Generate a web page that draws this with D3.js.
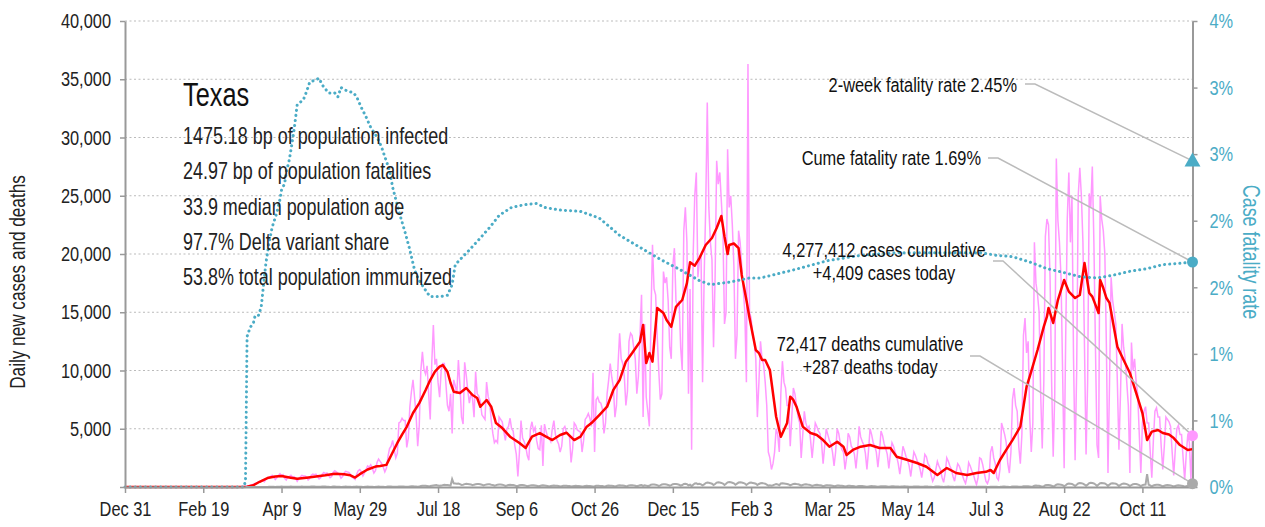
<!DOCTYPE html>
<html>
<head>
<meta charset="utf-8">
<script src="https://cdn.jsdelivr.net/npm/d3@7/dist/d3.min.js"></script>
<style>
    body { margin: 0; background: #fff; }
    svg { font-family: "Liberation Sans", Arial, sans-serif; }
</style>
</head>
<body>
<svg id="chart" width="1265" height="527"></svg>
<script>
// Texas covid chart: daily cases / deaths on the left axis, fatality rate on the right
var startDate = new Date(2019, 11, 31);
var lastDay = 682;   // Nov 12 2021, days since startDate

// daily new cases, one row per week (Tue..Mon), first value is day 63
var casesFirstDay = 63;
var dailyCases = [
    0,0,1,1,2,3,4,
    5,8,12,18,25,40,50,
    60,80,120,160,200,240,300,
    350,420,480,500,600,450,650,
    750,850,900,1000,850,650,800,
    1000,1150,950,1050,750,600,850,
    900,1000,850,900,750,500,700,
    850,1000,950,950,850,600,750,
    1000,1100,1050,1100,900,700,800,
    1100,1250,1150,1200,1000,800,900,
    1250,1400,1300,1200,1050,750,900,
    1200,1350,1300,1250,1100,850,750,
    650,1100,1400,1500,1300,950,1200,
    1500,1800,1700,1900,1600,1200,1400,
    2100,2400,2200,2000,1700,1300,1600,
    2600,3300,3500,4000,3200,2500,2900,
    5500,5600,5900,5700,5700,3400,4200,
    6900,8200,9200,7700,6100,3500,5300,
    10000,11600,10100,9700,10400,8000,5800,
    10700,13900,10500,11000,9000,7700,10000,
    10600,10600,8900,7000,6500,8000,4600,
    9200,8700,8000,10900,8700,6000,5400,
    10700,9600,8300,7200,8000,7600,6000,
    9900,8000,7800,7400,6200,6000,5800,
    9000,7800,7200,5700,4600,3800,4000,
    3800,6000,5800,5600,4800,4000,5000,
    5200,5900,5000,4800,3600,2800,900,
    3000,5700,4200,3900,3500,2700,2300,
    5000,5600,4800,5100,4000,3300,3200,
    5300,1800,5400,4800,4300,4200,3900,
    5000,5700,4500,4000,3700,3000,3500,
    5000,5200,4700,4600,4300,2100,3300,
    5500,5300,4900,4800,4700,3000,4000,
    5800,6000,6300,5900,5200,9800,3000,
    7500,7700,7300,7200,6700,4600,5500,
    8000,9200,10600,9400,8600,6000,7000,
    10500,13200,11000,10600,9500,7000,8200,
    12500,13200,13000,12000,11000,8000,9500,
    13000,16500,6000,14000,7700,6500,5200,
    14500,20800,17000,16500,13000,10000,7500,
    8000,18500,17500,18000,16000,12000,11000,
    19000,20500,16000,15500,16000,12000,10000,
    22000,24000,21000,8000,17000,3200,20000,
    25000,27000,18000,19500,20000,9000,18000,
    24000,33000,24000,21000,19500,12000,18000,
    28000,26000,27000,24500,22000,14000,15000,
    29000,24000,25000,22500,19000,11000,13000,
    22000,21000,19000,17000,15000,9000,36300,
    15000,14500,13000,12500,11000,6000,9000,
    12500,11000,10500,9000,7000,3000,2500,
    1500,2000,3000,5000,4500,3000,8000,
    10800,9000,8500,7000,7000,3500,6000,
    8500,8000,7000,6000,5500,2500,4500,
    6500,5500,5000,5200,4000,2500,4000,
    5500,5200,4800,4600,3800,2000,3500,
    5000,4500,4000,3700,3000,1800,3000,
    5000,4600,3700,3200,3000,1500,2500,
    4600,4300,3500,3300,2800,1600,3000,
    5200,4300,3900,3600,2900,1500,3100,
    5000,4500,3800,3500,3000,1700,3000,
    4800,4400,3700,3300,2800,1600,2800,
    3800,3500,3000,2600,2000,1100,2200,
    3500,3100,2600,2300,1800,900,2000,
    3000,2700,2300,2000,1500,800,1700,
    2800,2600,2000,1800,1000,500,800,
    1500,2200,1800,1500,800,400,1200,
    2500,2200,1800,1500,900,500,1300,
    2000,1800,1400,1000,600,300,900,
    2100,1800,1400,1100,600,200,800,
    2500,2400,1900,1200,500,300,700,
    3000,3500,2500,2000,800,600,1500,
    5500,5000,4500,3800,2000,1200,3000,
    7500,8500,7000,6500,3500,2000,4500,
    13000,14500,11500,12500,6000,3000,5500,
    21000,17500,16500,15000,8000,3300,9000,
    21500,23000,22500,18000,9000,2600,8000,
    28200,22900,21000,18000,10000,1600,13000,
    23000,27000,21000,25000,11000,2300,10000,
    25000,27400,25000,21000,12000,2800,9000,
    25200,24000,27500,21000,12000,3600,2500,
    25000,23000,22000,20000,12000,1200,9000,
    18000,16000,15000,14000,9000,3200,8000,
    14000,12000,11000,9000,7000,1200,12400,
    10000,11000,9000,8000,4500,1200,5500,
    6500,6900,5500,5500,3000,800,4000,
    6500,6800,6000,6000,3500,1500,3500,
    6000,5800,5600,5200,3000,1000,3200,
    5000,5300,4500,4500,2500,600,2800,
    4500,3800,600,4409
];

// daily new deaths, one row per week, first value is day 77
var deathsFirstDay = 77;
var dailyDeaths = [
    0,1,1,2,1,2,3,
    3,5,6,7,5,4,8,
    10,15,18,20,15,10,20,
    25,30,35,30,25,15,20,
    30,35,30,30,25,15,20,
    30,35,30,30,20,15,20,
    35,40,35,30,25,15,20,
    35,40,35,30,25,10,20,
    35,40,30,30,20,10,15,
    30,35,30,25,20,10,15,
    20,35,30,30,20,10,15,
    30,35,30,25,20,10,15,
    30,35,30,25,20,10,15,
    35,40,35,30,25,15,20,
    40,45,50,40,30,20,25,
    50,60,55,45,35,25,35,
    90,100,110,100,80,60,80,
    110,130,150,170,120,100,120,
    160,200,180,170,150,120,675,
    320,300,280,300,250,180,200,
    250,280,260,240,220,150,200,
    230,260,250,240,200,130,180,
    220,240,230,200,180,110,150,
    200,220,210,190,160,100,130,
    180,200,180,170,140,80,90,
    150,180,170,150,120,70,100,
    140,160,150,130,110,60,90,
    120,140,130,110,90,50,80,
    110,120,110,100,80,40,70,
    100,110,100,90,80,40,70,
    90,100,90,85,70,40,60,
    90,100,95,90,70,40,60,
    100,110,100,95,80,45,70,
    110,120,110,100,90,50,80,
    120,140,130,120,100,60,90,
    140,160,150,140,110,70,100,
    160,170,100,150,120,80,110,
    200,220,210,190,160,100,140,
    220,240,230,210,180,110,160,
    240,260,250,230,190,120,170,
    260,280,250,150,200,80,200,
    300,320,250,280,230,140,220,
    340,380,360,330,280,170,260,
    380,400,380,350,300,180,280,
    400,420,400,370,320,190,290,
    380,400,380,350,300,180,280,
    360,380,350,320,280,170,260,
    320,340,310,280,200,120,150,
    120,150,200,250,220,150,300,
    320,300,280,260,220,140,200,
    260,280,250,230,190,110,170,
    220,240,210,190,160,90,140,
    180,200,170,160,130,70,110,
    150,160,140,130,100,60,90,
    120,130,110,100,80,40,70,
    100,110,90,80,60,30,60,
    80,90,80,70,50,25,50,
    70,80,70,60,45,20,45,
    60,70,60,55,40,20,40,
    55,60,50,45,35,15,35,
    50,55,45,40,30,15,30,
    45,50,40,35,25,12,30,
    40,45,35,30,20,10,20,
    35,40,35,30,20,10,25,
    30,35,30,25,20,10,20,
    30,30,25,25,15,8,20,
    25,30,25,20,15,8,15,
    25,30,25,20,15,5,10,
    25,30,25,20,15,10,15,
    30,40,35,30,20,10,20,
    40,50,45,40,30,15,25,
    60,70,65,60,40,20,40,
    100,120,110,100,70,30,60,
    150,180,170,150,110,50,100,
    200,240,220,200,150,70,150,
    260,300,280,260,190,90,190,
    300,340,320,290,210,100,200,
    330,360,340,300,220,100,210,
    320,350,330,300,220,100,210,
    300,330,310,280,200,90,190,
    270,300,280,250,180,80,170,
    240,260,250,220,160,70,150,
    200,210,1100,190,140,60,130,
    180,200,190,170,120,50,110,
    150,170,160,140,100,40,90,
    120,140,130,110,80,30,70,
    100,110,90,287
];

// 7-day average of cases, [day, value]
var avgCases = [
    [0,0],[70,0],[78,20],[82,150],[86,450],[91,770],[96,900],[100,950],[105,820],[110,700],
    [116,800],[122,900],[128,1000],[134,1130],[140,1100],[144,1000],[147,810],[150,1100],[155,1500],
    [160,1750],[163,1800],[167,1900],[170,2700],[174,3780],[177,4500],[180,5170],[184,6350],[188,7200],
    [192,8300],[195,9180],[198,9900],[201,10330],[203,10470],[206,9900],[208,8930],[210,8180],[214,8070],
    [218,8500],[222,7900],[225,7640],[227,6890],[231,7470],[234,6890],[237,5490],[241,5060],[246,4320],
    [252,3780],[256,3350],[260,4320],[265,4630],[269,4320],[273,4030],[278,4460],[282,4660],[287,4030],
    [291,4320],[295,5180],[298,5490],[303,6180],[308,6890],[312,8330],[316,9180],[320,10760],[324,11500],
    [329,12470],[331,13900],[333,10640],[335,11500],[337,10760],[340,15360],[344,14930],[346,14330],
    [349,13760],[352,15470],[356,16050],[359,17500],[361,19300],[364,19000],[367,19650],[371,20770],
    [375,21370],[378,22230],[381,23260],[383,21500],[385,20000],[386,20770],[389,20900],[392,20510],
    [394,18200],[397,16050],[399,14500],[403,11760],[405,11500],[407,10900],[409,10900],[412,10040],
    [416,6030],[419,4320],[423,5490],[425,7750],[427,7470],[429,6890],[433,5180],[438,4630],[442,4460],
    [446,4030],[450,3460],[455,3890],[459,3460],[461,2750],[465,3180],[470,3460],[476,3600],[482,3350],
    [489,3350],[493,2600],[500,2320],[506,2060],[512,1740],[519,1030],[525,1630],[531,1200],[538,1030],
    [544,1200],[550,1300],[553,1460],[555,1200],[559,2320],[563,3180],[567,4030],[572,5180],[576,8610],
    [578,9470],[583,11760],[587,13760],[589,14620],[590,15370],[593,14080],[596,16050],[600,17770],
    [603,16770],[607,16220],[610,16480],[613,19230],[616,16650],[618,16340],[622,14930],[623,17770],
    [625,17080],[627,16220],[629,15800],[634,12040],[638,10900],[642,9790],[646,8070],[650,6350],
    [653,4030],[656,4750],[660,4890],[663,4630],[667,4500],[670,4200],[674,3600],[679,3180],[682,3250]
];

// cumulative case fatality rate in percent, [day, value]
var cfrPoints = [
    [0,0],[76,0],[77,0.05],[78,1.13],[80,1.20],[82,1.23],[83,1.28],[85,1.28],[87,1.35],[88,1.46],
    [90,1.68],[92,1.83],[94,1.95],[97,2.06],[99,2.16],[100,2.23],[102,2.28],[103,2.36],[105,2.46],
    [106,2.53],[108,2.68],[110,2.87],[114,2.91],[116,2.97],[118,3.04],[122,3.06],[124,3.07],[126,3.02],
    [130,2.96],[134,2.96],[136,2.93],[138,3.00],[141,2.98],[146,2.96],[148,2.93],[151,2.85],[154,2.78],
    [157,2.70],[161,2.63],[164,2.55],[166,2.48],[169,2.38],[171,2.25],[173,2.16],[176,2.03],[179,1.91],
    [182,1.78],[185,1.63],[188,1.55],[193,1.46],[195,1.43],[201,1.43],[206,1.44],[209,1.52],[211,1.67],
    [215,1.72],[220,1.78],[227,1.87],[233,1.95],[239,2.04],[247,2.10],[255,2.12],[263,2.13],[268,2.10],
    [278,2.08],[291,2.07],[303,2.02],[316,1.89],[329,1.80],[342,1.71],[355,1.63],[367,1.55],[374,1.52],
    [387,1.54],[399,1.57],[406,1.57],[427,1.63],[449,1.70],[470,1.74],[495,1.76],[521,1.76],[546,1.76],
    [557,1.74],[567,1.73],[578,1.69],[589,1.64],[600,1.61],[610,1.58],[621,1.57],[631,1.59],[642,1.62],
    [653,1.64],[663,1.67],[674,1.68],[682,1.69]
];

var dateTicks = ['2019-12-31','2020-02-19','2020-04-09','2020-05-29','2020-07-18','2020-09-06',
    '2020-10-26','2020-12-15','2021-02-03','2021-03-25','2021-05-14','2021-07-03','2021-08-22','2021-10-11'];
var leftTicks = [0, 5000, 10000, 15000, 20000, 25000, 30000, 35000, 40000];
var rightTicks = [0, 0.005, 0.01, 0.015, 0.02, 0.025, 0.03, 0.035];

var stateName = 'Texas';
var infoLines = ['1475.18 bp of population infected', '24.97 bp of population fatalities',
    '33.9 median population age', '97.7% Delta variant share', '53.8% total population immunized'];

var casesToday = 4409, deathsToday = 287;
var cumeCases = '4,277,412', cumeDeaths = '72,417';
var cumeRate = 0.0169, twoWeekRate = 0.0245;

var colors = { cases: '#ff99ff', avg: '#ff0000', deaths: '#aaaaaa', cfr: '#4bacc6', axis: '#999999', grid: '#bbbbbb', leader: '#bbbbbb' };

// condensed look: squeeze every text horizontally
var squeeze = 0.78;

// ---- layout
var svg = d3.select('#chart');
var plotL = 125, plotR = 1192.5, plotT = 21, plotB = 487;

var dayDate = d => d3.timeDay.offset(startDate, d);
var x = d3.scaleTime().domain([startDate, dayDate(lastDay)]).range([plotL, plotR]);
var yL = d3.scaleLinear().domain([0, 40000]).range([plotB, plotT]);
var yR = d3.scaleLinear().domain([0, 0.035]).range([plotB, plotT]);

// text helper: lines of text anchored at (tx, ty), squeezed
function label(tx, ty, lines, size, anchor, color, lineH, rot) {
    var t = svg.append('text')
        .attr('transform', 'translate(' + tx + ',' + ty + ')' + (rot ? ' rotate(' + rot + ')' : '') + ' scale(' + squeeze + ',1)')
        .attr('text-anchor', anchor).attr('font-size', size).attr('fill', color);
    lines.forEach(function(s, i) {
        t.append('tspan').attr('x', 0).attr('y', i * (lineH || 0)).text(s);
    });
    return t;
}

// gridlines
svg.append('g').selectAll('line').data(leftTicks.filter(d => d > 0)).enter().append('line')
    .attr('x1', plotL).attr('x2', plotR)
    .attr('y1', d => yL(d)).attr('y2', d => yL(d))
    .attr('stroke', colors.grid).attr('stroke-width', 1.2).attr('stroke-dasharray', '2,2.5');

// series
var casesData = dailyCases.map((v, i) => [casesFirstDay + i, v]);
var deathsData = dailyDeaths.map((v, i) => [deathsFirstDay + i, v]);

var lineL = d3.line().x(d => x(dayDate(d[0]))).y(d => yL(d[1]));
var lineR = d3.line().x(d => x(dayDate(d[0]))).y(d => yR(d[1] / 100));

svg.append('path').datum(casesData).attr('d', lineL)
    .attr('fill', 'none').attr('stroke', colors.cases).attr('stroke-width', 1.5);
svg.append('path').datum(avgCases).attr('d', lineL)
    .attr('fill', 'none').attr('stroke', colors.avg).attr('stroke-width', 2.5).attr('stroke-linejoin', 'round');
svg.append('path').datum(deathsData).attr('d', lineL)
    .attr('fill', 'none').attr('stroke', colors.deaths).attr('stroke-width', 2);
svg.append('path').datum(cfrPoints).attr('d', lineR)
    .attr('fill', 'none').attr('stroke', colors.cfr).attr('stroke-width', 3)
    .attr('stroke-linecap', 'round').attr('stroke-dasharray', '0.1,5');

// axes
function styleAxis(g, labelColor) {
    g.selectAll('.domain').attr('stroke', colors.axis).attr('stroke-width', 2);
    g.selectAll('.tick line').attr('stroke', colors.axis).attr('stroke-width', 1.5);
    g.selectAll('.tick text').attr('fill', labelColor).attr('font-size', 21).attr('font-family', null)
        .each(function() {
            var t = d3.select(this);
            t.attr('x', (+t.attr('x') || 0) / squeeze).attr('transform', 'scale(' + squeeze + ',1)');
        });
}

svg.append('g').attr('transform', 'translate(' + plotL + ',0)')
    .call(d3.axisLeft(yL).tickValues(leftTicks).tickSize(5).tickSizeOuter(0).tickPadding(9)
        .tickFormat(d => d ? d3.format(',')(d) : ''))
    .call(g => styleAxis(g, '#222'));

svg.append('g').attr('transform', 'translate(' + plotR + ',0)')
    .call(d3.axisRight(yR).tickValues(rightTicks).tickSize(5).tickSizeOuter(0).tickPadding(12)
        .tickFormat(d => Math.round(d * 100) + '%'))
    .call(g => styleAxis(g, colors.cfr));

svg.append('g').attr('transform', 'translate(0,' + plotB + ')')
    .call(d3.axisBottom(x).tickValues(dateTicks.map(s => d3.timeParse('%Y-%m-%d')(s)))
        .tickSize(6).tickSizeOuter(0).tickPadding(8).tickFormat(d3.timeFormat('%b %-d')))
    .call(g => styleAxis(g, '#222'));

// axis titles
label(25, 282, ['Daily new cases and deaths'], 22, 'middle', '#222', 0, -90);
label(1243, 252, ['Case fatality rate'], 23, 'middle', colors.cfr, 0, 90);

// info block
label(183, 106, [stateName], 32.5, 'start', '#111');
label(183, 144, infoLines, 23, 'start', '#222', 35.3);

// leaders and end markers
var endX = x(dayDate(lastDay));
var notes = [
    { lines: ['2-week fatality rate ' + d3.format('.2%')(twoWeekRate)], tx: 1017, ty: 92, anchor: 'end',
      from: [1025, 84], to: [endX, yR(twoWeekRate)] },
    { lines: ['Cume fatality rate ' + d3.format('.2%')(cumeRate)], tx: 981, ty: 165, anchor: 'end',
      from: [988, 158], to: [endX, yR(cumeRate)] },
    { lines: [cumeCases + ' cases cumulative', '+' + d3.format(',')(casesToday) + ' cases today'], tx: 884, ty: 257, anchor: 'middle',
      from: [993, 261], to: [endX, yL(casesToday)] },
    { lines: [cumeDeaths + ' deaths cumulative', '+' + deathsToday + ' deaths today'], tx: 870, ty: 351, anchor: 'middle',
      from: [970, 356], to: [endX, yL(deathsToday)] }
];

notes.forEach(function(n) {
    svg.append('path')
        .attr('d', d3.line()([n.from, [n.from[0] + 10, n.from[1]], n.to]))
        .attr('fill', 'none').attr('stroke', colors.leader).attr('stroke-width', 1.5);
    label(n.tx, n.ty, n.lines, 21, n.anchor, '#111', 23.5);
});

svg.append('path').attr('d', d3.symbol().type(d3.symbolTriangle).size(110)())
    .attr('transform', 'translate(' + endX + ',' + (yR(twoWeekRate) + 1) + ')')
    .attr('fill', colors.cfr);
svg.append('circle').attr('cx', endX).attr('cy', yR(cumeRate)).attr('r', 5.5).attr('fill', colors.cfr);
svg.append('circle').attr('cx', endX).attr('cy', yL(casesToday)).attr('r', 5.5).attr('fill', colors.cases);
svg.append('circle').attr('cx', endX).attr('cy', yL(deathsToday)).attr('r', 5.5).attr('fill', colors.deaths);
</script>
</body>
</html>
